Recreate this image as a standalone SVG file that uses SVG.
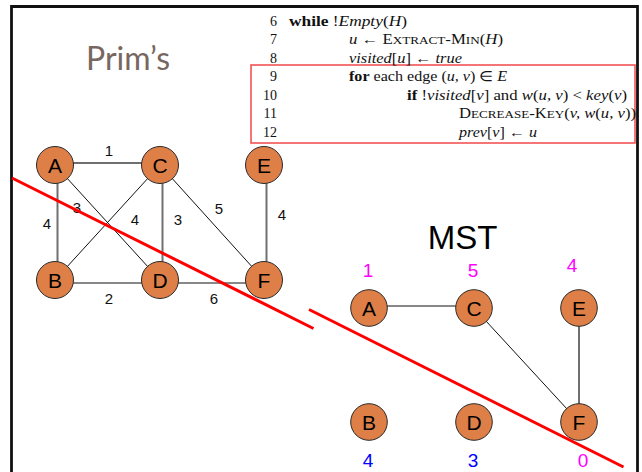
<svg xmlns="http://www.w3.org/2000/svg" width="642" height="472" viewBox="0 0 642 472">
<style>
.node circle{fill:#de7f48;stroke:#2a2a2a;stroke-width:1}
.node text{font-family:"Liberation Sans",Arial,sans-serif;font-size:21px;fill:#000;text-anchor:middle}
.thin{stroke:#111;stroke-width:1;fill:none}
.gray{stroke:#6f6f6f;stroke-width:2;fill:none}
.w{font-family:"Liberation Sans",Arial,sans-serif;font-size:15px;fill:#111;text-anchor:middle}
.key{font-family:"Liberation Sans",Arial,sans-serif;font-size:19px;text-anchor:middle}
.mag{fill:#ff00ff}
.blue{fill:#0000ff}
.code{font-family:"Liberation Serif","Times New Roman",serif;font-size:14px;fill:#111}
.num{text-anchor:end}
.i{font-style:italic}
.b{font-weight:bold}
.sc{font-size:11px}
.cut{stroke:#f00;stroke-width:3;fill:none}
</style>
<rect width="642" height="472" fill="#fff"/>
<path d="M11.5,472 V6.5 H637.5 V472" fill="none" stroke="#111" stroke-width="2.8"/>

<g id="title-prims"><text x="86" y="70" font-family="Lato,'Open Sans',sans-serif" font-size="32" fill="#786660">Prim’s</text></g>
<g id="title-mst"><text x="462.5" y="249" font-family="'Liberation Sans',Arial,sans-serif" font-size="33" fill="#000" text-anchor="middle">MST</text></g>

<g id="pseudocode" class="code">
<rect x="251" y="65" width="384" height="78" fill="none" stroke="#f04848" stroke-width="1.5"/>
<text class="num" x="277" y="25.5">6</text>
<text class="num" x="277" y="44">7</text>
<text class="num" x="277" y="62.6">8</text>
<text class="num" x="277" y="81.2">9</text>
<text class="num" x="277" y="99.8">10</text>
<text class="num" x="277" y="118.4">11</text>
<text class="num" x="277" y="137">12</text>
<text x="289" y="25.5" textLength="118" lengthAdjust="spacingAndGlyphs"><tspan class="b">while</tspan> !<tspan class="i">Empty</tspan>(<tspan class="i">H</tspan>)</text>
<text x="349" y="44" textLength="154" lengthAdjust="spacingAndGlyphs"><tspan class="i">u</tspan> ← E<tspan class="sc">XTRACT</tspan>-M<tspan class="sc">IN</tspan>(<tspan class="i">H</tspan>)</text>
<text x="349" y="62.6" textLength="113" lengthAdjust="spacingAndGlyphs"><tspan class="i">visited</tspan>[<tspan class="i">u</tspan>] ← <tspan class="i">true</tspan></text>
<text x="349" y="81.2" textLength="158" lengthAdjust="spacingAndGlyphs"><tspan class="b">for</tspan> each edge (<tspan class="i">u, v</tspan>) ∈ <tspan class="i">E</tspan></text>
<text x="407" y="99.8" textLength="220" lengthAdjust="spacingAndGlyphs"><tspan class="b">if</tspan> !<tspan class="i">visited</tspan>[<tspan class="i">v</tspan>] and <tspan class="i">w</tspan>(<tspan class="i">u, v</tspan>) &lt; <tspan class="i">key</tspan>(<tspan class="i">v</tspan>)</text>
<text x="459" y="118.4" textLength="177" lengthAdjust="spacingAndGlyphs">D<tspan class="sc">ECREASE</tspan>-K<tspan class="sc">EY</tspan>(<tspan class="i">v, w</tspan>(<tspan class="i">u, v</tspan>))</text>
<text x="459" y="137" textLength="78" lengthAdjust="spacingAndGlyphs"><tspan class="i">prev</tspan>[<tspan class="i">v</tspan>] ← <tspan class="i">u</tspan></text>
</g>

<g id="connectors">
<line class="gray" x1="55" y1="163" x2="160" y2="163"/>
<line class="gray" x1="57.5" y1="165" x2="57.5" y2="280"/>
<line class="thin" x1="55" y1="165" x2="160" y2="280"/>
<line class="thin" x1="160" y1="165" x2="55" y2="280"/>
<line class="gray" x1="162.5" y1="165" x2="162.5" y2="280"/>
<line class="thin" x1="160" y1="165" x2="264" y2="280"/>
<line class="gray" x1="266.5" y1="165" x2="266.5" y2="280"/>
<line class="thin" x1="55" y1="283" x2="160" y2="283"/>
<line class="thin" x1="160" y1="283" x2="264" y2="283"/>
<line class="thin" x1="369" y1="306" x2="474" y2="306"/>
<line class="thin" x1="474" y1="308" x2="579" y2="422"/>
<line class="gray" x1="579" y1="308" x2="579" y2="422"/>
</g>

<g id="weights">
<text class="w" x="109" y="156">1</text>
<text class="w" x="77" y="213">3</text>
<text class="w" x="47" y="229">4</text>
<text class="w" x="135" y="225">4</text>
<text class="w" x="178" y="225">3</text>
<text class="w" x="219" y="214">5</text>
<text class="w" x="282" y="220">4</text>
<text class="w" x="109" y="304">2</text>
<text class="w" x="214" y="304">6</text>
</g>

<g id="node-A" class="node"><circle cx="55" cy="165" r="18.5"/><text x="55" y="172.5">A</text></g>
<g id="node-C" class="node"><circle cx="160" cy="165" r="18.5"/><text x="160" y="172.5">C</text></g>
<g id="node-E" class="node"><circle cx="264" cy="165" r="18.5"/><text x="264" y="172.5">E</text></g>
<g id="node-B" class="node"><circle cx="55" cy="280" r="18.5"/><text x="55" y="287.5">B</text></g>
<g id="node-D" class="node"><circle cx="160" cy="280" r="18.5"/><text x="160" y="287.5">D</text></g>
<g id="node-F" class="node"><circle cx="264" cy="280" r="18.5"/><text x="264" y="287.5">F</text></g>

<g id="mst-A" class="node"><circle cx="369" cy="308" r="18.3"/><text x="369" y="315.5">A</text></g>
<g id="mst-C" class="node"><circle cx="474" cy="308" r="18.3"/><text x="474" y="315.5">C</text></g>
<g id="mst-E" class="node"><circle cx="579" cy="308" r="18.3"/><text x="579" y="315.5">E</text></g>
<g id="mst-B" class="node"><circle cx="369" cy="422" r="18.3"/><text x="369" y="429.5">B</text></g>
<g id="mst-D" class="node"><circle cx="474" cy="422" r="18.3"/><text x="474" y="429.5">D</text></g>
<g id="mst-F" class="node"><circle cx="579" cy="422" r="18.3"/><text x="579" y="429.5">F</text></g>

<g id="keys">
<text class="key mag" x="368" y="277">1</text>
<text class="key mag" x="473" y="277">5</text>
<text class="key mag" x="572" y="272">4</text>
<text class="key blue" x="368" y="466.5">4</text>
<text class="key blue" x="473" y="466.5">3</text>
<text class="key mag" x="583" y="466.5">0</text>
</g>

<g id="cuts">
<line class="cut" x1="12" y1="178" x2="313.5" y2="328.5"/>
<line class="cut" x1="309" y1="309.5" x2="623.5" y2="467"/>
</g>
</svg>
